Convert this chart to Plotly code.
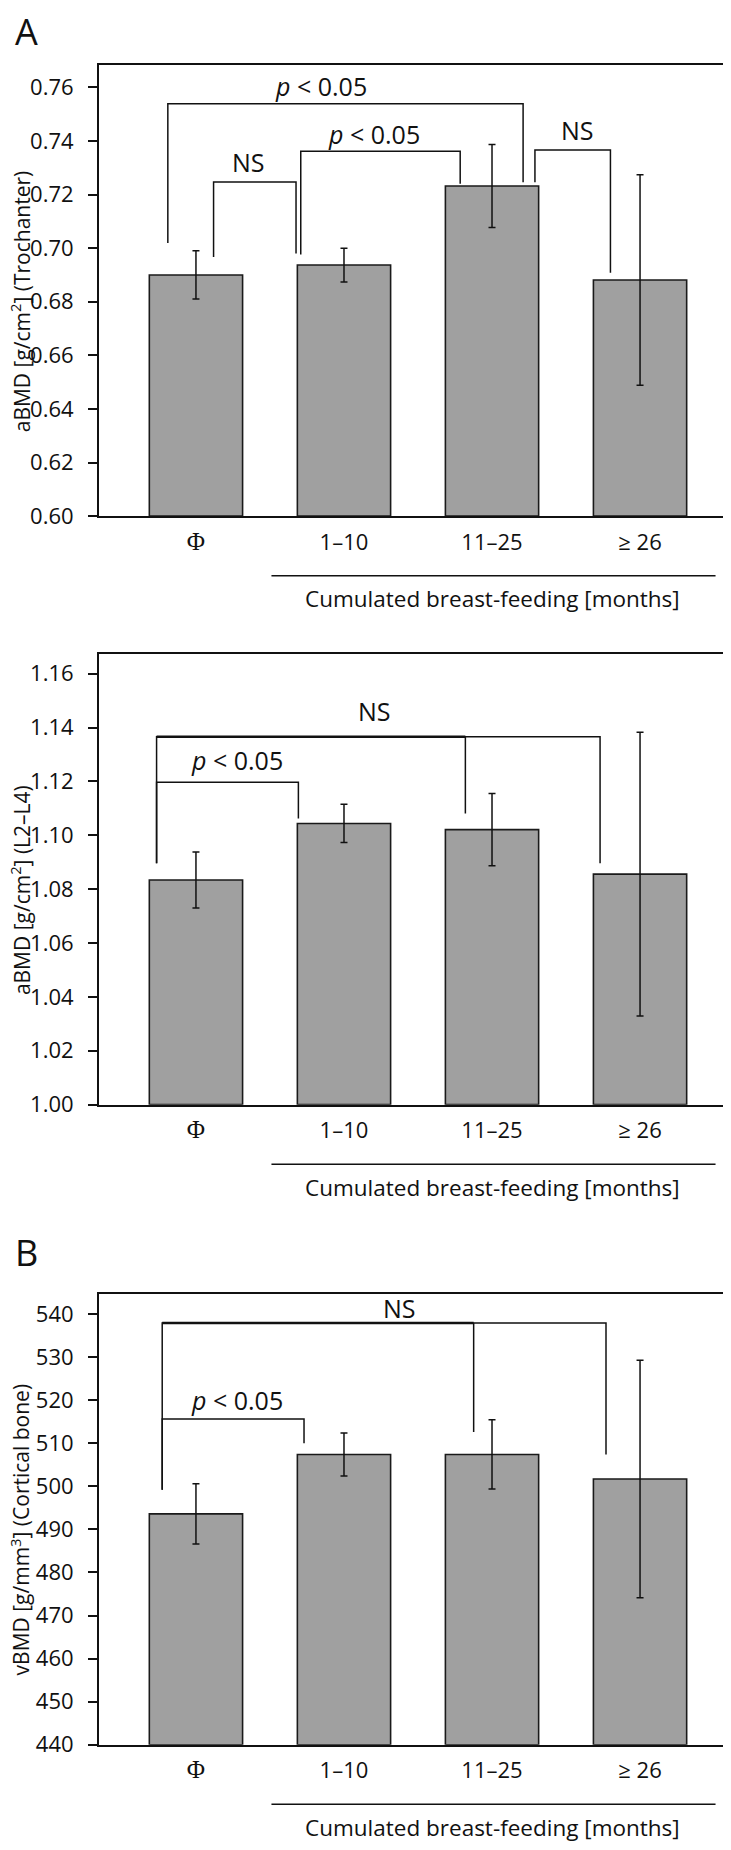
import plotly.graph_objects as go

# ---------------- data ----------------
categories = ["Φ", "1–10", "11–25", "≥ 26"]
group_positions = [0, 1, 2, 3]

trochanter_mean = [0.690, 0.6937, 0.7232, 0.6881]
trochanter_err = [0.0090, 0.0063, 0.0155, 0.0393]
trochanter_ticks = [0.60, 0.62, 0.64, 0.66, 0.68, 0.70, 0.72, 0.74, 0.76]

lumbar_mean = [1.0834, 1.1044, 1.1021, 1.0856]
lumbar_err = [0.0104, 0.0071, 0.0134, 0.0527]
lumbar_ticks = [1.00, 1.02, 1.04, 1.06, 1.08, 1.10, 1.12, 1.14, 1.16]

cortical_mean = [493.6, 507.4, 507.4, 501.7]
cortical_err = [7.0, 5.0, 8.05, 27.55]
cortical_ticks = [440, 450, 460, 470, 480, 490, 500, 510, 520, 530, 540]

# significance brackets: leg x positions, leg bottoms, top, label, label x, label y
trochanter_brackets = [
    ([-0.19, 2.21], [0.7019, 0.7246], 0.7539, "<i>p</i> &lt; 0.05", 0.845, 0.7604),
    ([0.119, 0.676], [0.6967, 0.6980], 0.7247, "NS", 0.355, 0.7320),
    ([0.708, 1.785], [0.6976, 0.7240], 0.7362, "<i>p</i> &lt; 0.05", 1.20, 0.7426),
    ([2.29, 2.80], [0.7246, 0.6908], 0.7366, "NS", 2.578, 0.7440),
]
lumbar_brackets = [
    ([-0.266, 0.692], [1.0896, 1.1062], 1.1197, "<i>p</i> &lt; 0.05", 0.275, 1.1281),
    ([-0.266, 1.82, 2.73], [1.0896, 1.1081, 1.0896], 1.1366, "NS", 1.209, 1.1462),
]
cortical_brackets = [
    ([-0.228, 0.730], [499.2, 510.0], 515.6, "<i>p</i> &lt; 0.05", 0.275, 520.0),
    ([-0.228, 1.876, 2.77], [499.2, 512.6, 507.4], 537.9, "NS", 1.378, 541.5),
]

y_titles = [
    "aBMD [g/cm<sup>2</sup>] (Trochanter)",
    "aBMD [g/cm<sup>2</sup>] (L2–L4)",
    "vBMD [g/mm<sup>3</sup>] (Cortical bone)",
]
x_title = "Cumulated breast-feeding [months]"

# ---------------- layout geometry (pixels) ----------------
W, H = 731, 1850
ML, MR = 91, 2
panels = [
    dict(mean=trochanter_mean, err=trochanter_err, ticks=trochanter_ticks, fmt=".2f",
         yrange=[0.60, 0.7685], top=57, bottom=512, brackets=trochanter_brackets),
    dict(mean=lumbar_mean, err=lumbar_err, ticks=lumbar_ticks, fmt=".2f",
         yrange=[1.00, 1.1674], top=650.7, bottom=1105, brackets=lumbar_brackets),
    dict(mean=cortical_mean, err=cortical_err, ticks=cortical_ticks, fmt="d",
         yrange=[440, 544.6], top=1296, bottom=1750, brackets=cortical_brackets),
]

def py(px):
    return 1 - px / H

def px_x(px):
    return (px - ML) / (W - ML - MR)

FONT = "Open Sans"
TXT = "#111111"
tick_text = ['<span style="font-family:Liberation Serif;font-size:25px">Φ</span>'] + categories[1:]

fig = go.Figure()
layout = dict(
    width=W, height=H,
    margin=dict(l=ML, r=MR, t=0, b=0),
    paper_bgcolor="white", plot_bgcolor="white",
    showlegend=False,
    font=dict(family=FONT, color=TXT, size=22),
)
shapes = []
annotations = []

for i, p in enumerate(panels):
    n = "" if i == 0 else str(i + 1)
    xa, ya = "x" + n, "y" + n
    base = p["yrange"][0]
    fig.add_trace(go.Bar(
        x=group_positions, y=[m - base for m in p["mean"]], base=base,
        xaxis=xa, yaxis=ya, width=0.63,
        marker=dict(color="#a0a0a0", line=dict(color="#1a1a1a", width=1.6)),
        error_y=dict(type="data", array=p["err"], visible=True,
                     color="#111111", thickness=1.5, width=3.5),
        hoverinfo="skip",
    ))

    layout["xaxis" + n] = dict(
        domain=[0, 1], anchor=ya, range=[-0.655, 3.655],
        tickvals=group_positions, ticktext=tick_text,
        ticks="", showgrid=False, zeroline=False,
        showline=True, mirror=True, linecolor="#111111", linewidth=2,
        tickfont=dict(size=22, family=FONT, color=TXT),
        ticklabelstandoff=5,
        fixedrange=True,
    )
    layout["yaxis" + n] = dict(
        domain=[py(p["bottom"]), py(p["top"])], anchor=xa,
        range=p["yrange"], tickvals=p["ticks"], tickformat=p["fmt"],
        ticks="outside", ticklen=9, tickwidth=1.5, tickcolor="#111111",
        showgrid=False, zeroline=False,
        showline=True, mirror=True, linecolor="#111111", linewidth=2,
        tickfont=dict(size=22, family=FONT, color=TXT),
        ticklabelstandoff=10,
        fixedrange=True,
    )

    # brackets
    for j, (xs, bots, top, label, lx, ly) in enumerate(p["brackets"]):
        path = f"M {xs[0]},{bots[0]} L {xs[0]},{top} L {xs[-1]},{top} L {xs[-1]},{bots[-1]}"
        for xm, bm in zip(xs[1:-1], bots[1:-1]):
            path += f" M {xm},{top} L {xm},{bm}"
        shapes.append(dict(type="path", path=path, xref=xa, yref=ya,
                           line=dict(color="#111111", width=1.5)))
        if len(xs) > 2:
            shapes.append(dict(type="line", x0=xs[0], x1=xs[1], y0=top, y1=top,
                               xref=xa, yref=ya, line=dict(color="#111111", width=2.6)))
        annotations.append(dict(text=label, x=lx, y=ly, xref=xa, yref=ya,
                                showarrow=False, xanchor="center", yanchor="middle",
                                font=dict(size=25, family=FONT, color=TXT)))

    # underline for breast-feeding groups and title
    shapes.append(dict(type="line", x0=0.51, x1=3.51,
                       y0=py(p["bottom"] + 60), y1=py(p["bottom"] + 60),
                       xref=xa, yref="paper", line=dict(color="#111111", width=1.5)))
    annotations.append(dict(text=x_title, x=2.0, y=py(p["bottom"] + 83), xref=xa, yref="paper",
                            showarrow=False, xanchor="center", yanchor="middle",
                            font=dict(size=22.5, family=FONT, color=TXT)))
    # y title
    mid = (p["top"] + p["bottom"]) / 2 + 11
    annotations.append(dict(text=y_titles[i], x=px_x(12), y=py(mid),
                            xref="paper", yref="paper", textangle=-90,
                            showarrow=False, xanchor="center", yanchor="middle",
                            font=dict(size=21, family=FONT, color=TXT)))

# panel letters
annotations.append(dict(text="A", x=px_x(18.6), y=py(24), xref="paper", yref="paper",
                        showarrow=False, xanchor="center", yanchor="middle",
                        font=dict(size=36, family=FONT, color="#111111")))
annotations.append(dict(text="B", x=px_x(18), y=py(1254), xref="paper", yref="paper",
                        showarrow=False, xanchor="center", yanchor="middle",
                        font=dict(size=36, family=FONT, color="#111111")))

layout["shapes"] = shapes
layout["annotations"] = annotations
fig.update_layout(**layout)
fig.write_html("out.html")
